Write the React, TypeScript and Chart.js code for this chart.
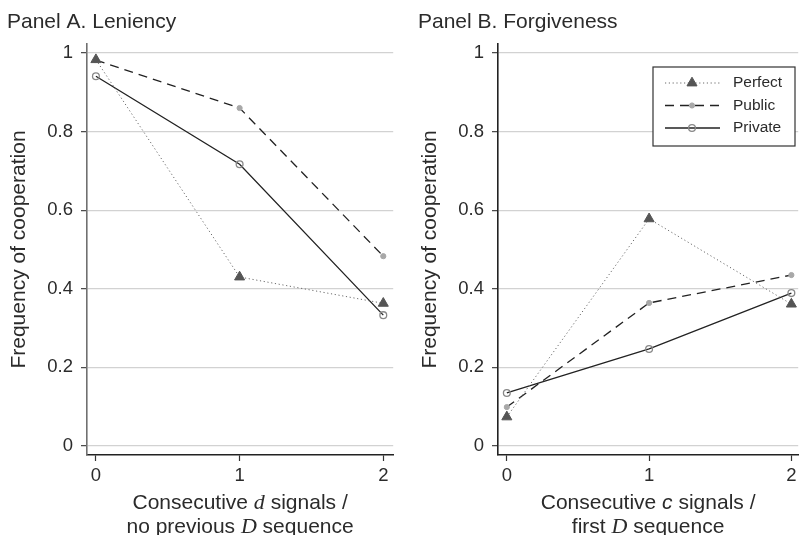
import React, { useEffect, useRef } from "react";
import { Chart, registerables } from "chart.js";

Chart.register(...registerables);

// ---------- data ----------
const xTicks = [0, 1, 2];
const yTicks = [0, 0.2, 0.4, 0.6, 0.8, 1];
const seriesNames = ["Perfect", "Public", "Private"];

// Panel A. Leniency
const leniencyPerfect = [0.983, 0.43, 0.363];
const leniencyPublic = [0.982, 0.86, 0.483];
const leniencyPrivate = [0.941, 0.717, 0.333];

// Panel B. Forgiveness
const forgivenessPerfect = [0.074, 0.578, 0.361];
const forgivenessPublic = [0.099, 0.364, 0.435];
const forgivenessPrivate = [0.135, 0.247, 0.389];

const SANS = '"Liberation Sans", Arial, Helvetica, sans-serif';
const SERIF = '"Liberation Serif", "Times New Roman", serif';

type Seg = { text: string; font: string };

const sans = (t: string): Seg => ({ text: t, font: `21px ${SANS}` });
const sansIt = (t: string): Seg => ({ text: t, font: `italic 21px ${SANS}` });
const serifIt = (t: string): Seg => ({ text: t, font: `italic 22px ${SERIF}` });

const seriesStyles = [
  {
    borderColor: "#6a6a6a",
    borderWidth: 1,
    borderDash: [1.2, 2.6],
    pointStyle: "triangle",
    pointRadius: 5.8,
    pointBackgroundColor: "#555555",
    pointBorderColor: "#555555",
    pointBorderWidth: 1,
  },
  {
    borderColor: "#222222",
    borderWidth: 1.3,
    borderDash: [9, 6],
    pointStyle: "circle",
    pointRadius: 2.6,
    pointBackgroundColor: "#a8a8a8",
    pointBorderColor: "#a8a8a8",
    pointBorderWidth: 1,
  },
  {
    borderColor: "#222222",
    borderWidth: 1.3,
    borderDash: [] as number[],
    pointStyle: "circle",
    pointRadius: 3.4,
    pointBackgroundColor: "rgba(255,255,255,0)",
    pointBorderColor: "#888888",
    pointBorderWidth: 1.3,
  },
];

function drawMarker(ctx: CanvasRenderingContext2D, style: any, x: number, y: number) {
  ctx.save();
  ctx.setLineDash([]);
  ctx.fillStyle = style.pointBackgroundColor;
  ctx.strokeStyle = style.pointBorderColor;
  ctx.lineWidth = style.pointBorderWidth;
  const r = style.pointRadius;
  ctx.beginPath();
  if (style.pointStyle === "triangle") {
    ctx.moveTo(x, y - r);
    ctx.lineTo(x + r * 0.866, y + r * 0.5);
    ctx.lineTo(x - r * 0.866, y + r * 0.5);
    ctx.closePath();
  } else {
    ctx.arc(x, y, r, 0, Math.PI * 2);
  }
  ctx.fill();
  ctx.stroke();
  ctx.restore();
}

function makeTextPlugin(title: string, xTitle: Seg[][], legend: boolean) {
  return {
    id: "panelText",
    afterDraw(chart: any) {
      const { ctx, chartArea } = chart;
      ctx.save();
      ctx.fillStyle = "#2b2b2b";
      ctx.textAlign = "left";
      ctx.textBaseline = "alphabetic";
      ctx.font = `21px ${SANS}`;
      ctx.fillText(title, 7, 28);

      const cx = (chartArea.left + chartArea.right) / 2;
      const baselines = [509, 533];
      xTitle.forEach((line, i) => {
        const widths = line.map((s) => {
          ctx.font = s.font;
          return ctx.measureText(s.text).width;
        });
        const total = widths.reduce((a, b) => a + b, 0);
        let x = cx - total / 2;
        line.forEach((s, j) => {
          ctx.font = s.font;
          ctx.fillText(s.text, x, baselines[i]);
          x += widths[j];
        });
      });

      if (legend) {
        const bx = 242, by = 67, bw = 142, bh = 79;
        ctx.fillStyle = "#ffffff";
        ctx.fillRect(bx, by, bw, bh);
        ctx.strokeStyle = "#333333";
        ctx.lineWidth = 1.2;
        ctx.strokeRect(bx, by, bw, bh);
        const rows = [83, 105.5, 128];
        chart.data.datasets.forEach((ds: any, i: number) => {
          const st = seriesStyles[i];
          const y = rows[i];
          ctx.save();
          ctx.strokeStyle = st.borderColor;
          ctx.lineWidth = st.borderWidth;
          ctx.setLineDash(st.borderDash);
          ctx.beginPath();
          ctx.moveTo(bx + 12, y);
          ctx.lineTo(bx + 67, y);
          ctx.stroke();
          ctx.restore();
          drawMarker(ctx, st, bx + 39, y);
          ctx.fillStyle = "#2b2b2b";
          ctx.font = `15.5px ${SANS}`;
          ctx.textBaseline = "middle";
          ctx.fillText(ds.label, bx + 80, y);
        });
      }
      ctx.restore();
    },
  };
}

type PanelProps = {
  left: number;
  width: number;
  xMax: number;
  rightPad: number;
  title: string;
  xTitle: Seg[][];
  series: number[][];
  yBorder: string;
  legend: boolean;
};

function Panel(props: PanelProps) {
  const ref = useRef<HTMLCanvasElement | null>(null);
  useEffect(() => {
    if (!ref.current) return;
    const datasets = props.series.map((vals, i) => ({
      label: seriesNames[i],
      data: vals.map((v, j) => ({ x: xTicks[j], y: v })),
      ...seriesStyles[i],
      fill: false,
      tension: 0,
    }));
    const chart = new Chart(ref.current, {
      type: "line",
      data: { datasets: datasets as any },
      options: {
        animation: false,
        responsive: true,
        maintainAspectRatio: false,
        events: [],
        layout: { padding: { top: 44, right: props.rightPad, bottom: 0, left: 0 } },
        plugins: { legend: { display: false }, tooltip: { enabled: false }, title: { display: false } },
        scales: {
          x: {
            type: "linear",
            min: -0.062,
            max: props.xMax,
            afterBuildTicks: (s: any) => {
              s.ticks = xTicks.map((v) => ({ value: v }));
            },
            afterFit: (s: any) => {
              s.height = 80;
              s.paddingLeft = 0;
              s.paddingRight = 0;
            },
            ticks: {
              autoSkip: false,
              maxRotation: 0,
              padding: 4,
              color: "#2b2b2b",
              font: { family: SANS, size: 18.5 },
              callback: (v: any) => String(v),
            },
            grid: { drawOnChartArea: false, tickLength: 6, tickColor: "#333", tickWidth: 1.2 },
            border: { color: "#222", width: 1.4 },
          },
          y: {
            type: "linear",
            min: -0.0229,
            max: 1.0229,
            afterBuildTicks: (s: any) => {
              s.ticks = yTicks.map((v) => ({ value: v }));
            },
            afterFit: (s: any) => {
              s.width = 87;
              s.paddingTop = 0;
              s.paddingBottom = 0;
            },
            ticks: {
              autoSkip: false,
              padding: 8,
              color: "#2b2b2b",
              font: { family: SANS, size: 18.5 },
              callback: (v: any) => String(Math.round(Number(v) * 10) / 10),
            },
            grid: { color: "#d2d2d2", lineWidth: 1.3, tickLength: 6, tickColor: "#444", tickWidth: 1.2 },
            border: { color: props.yBorder, width: 1.6 },
            title: {
              display: true,
              text: "Frequency of cooperation",
              color: "#2b2b2b",
              font: { family: SANS, size: 21 },
              padding: { top: 7, bottom: 0 },
            },
          },
        },
      },
      plugins: [makeTextPlugin(props.title, props.xTitle, props.legend) as any],
    });
    return () => chart.destroy();
  }, []);
  return (
    <div style={{ position: "absolute", left: props.left, top: 0, width: props.width, height: 535 }}>
      <canvas ref={ref} />
    </div>
  );
}

export default function App() {
  return (
    <div
      style={{
        position: "absolute",
        left: 0,
        top: 0,
        width: 805,
        height: 535,
        background: "#ffffff",
        overflow: "hidden",
      }}
    >
      <Panel
        left={0}
        width={400}
        xMax={2.069}
        rightPad={3}
        title="Panel A. Leniency"
        xTitle={[
          [sans("Consecutive "), serifIt("d"), sans(" signals /")],
          [sans("no previous "), serifIt("D"), sans(" sequence")],
        ]}
        series={[leniencyPerfect, leniencyPublic, leniencyPrivate]}
        yBorder="#707070"
        legend={false}
      />
      <Panel
        left={411}
        width={394}
        xMax={2.048}
        rightPad={0}
        title="Panel B. Forgiveness"
        xTitle={[
          [sans("Consecutive "), sansIt("c"), sans(" signals /")],
          [sans("first "), serifIt("D"), sans(" sequence")],
        ]}
        series={[forgivenessPerfect, forgivenessPublic, forgivenessPrivate]}
        yBorder="#222222"
        legend={true}
      />
    </div>
  );
}
